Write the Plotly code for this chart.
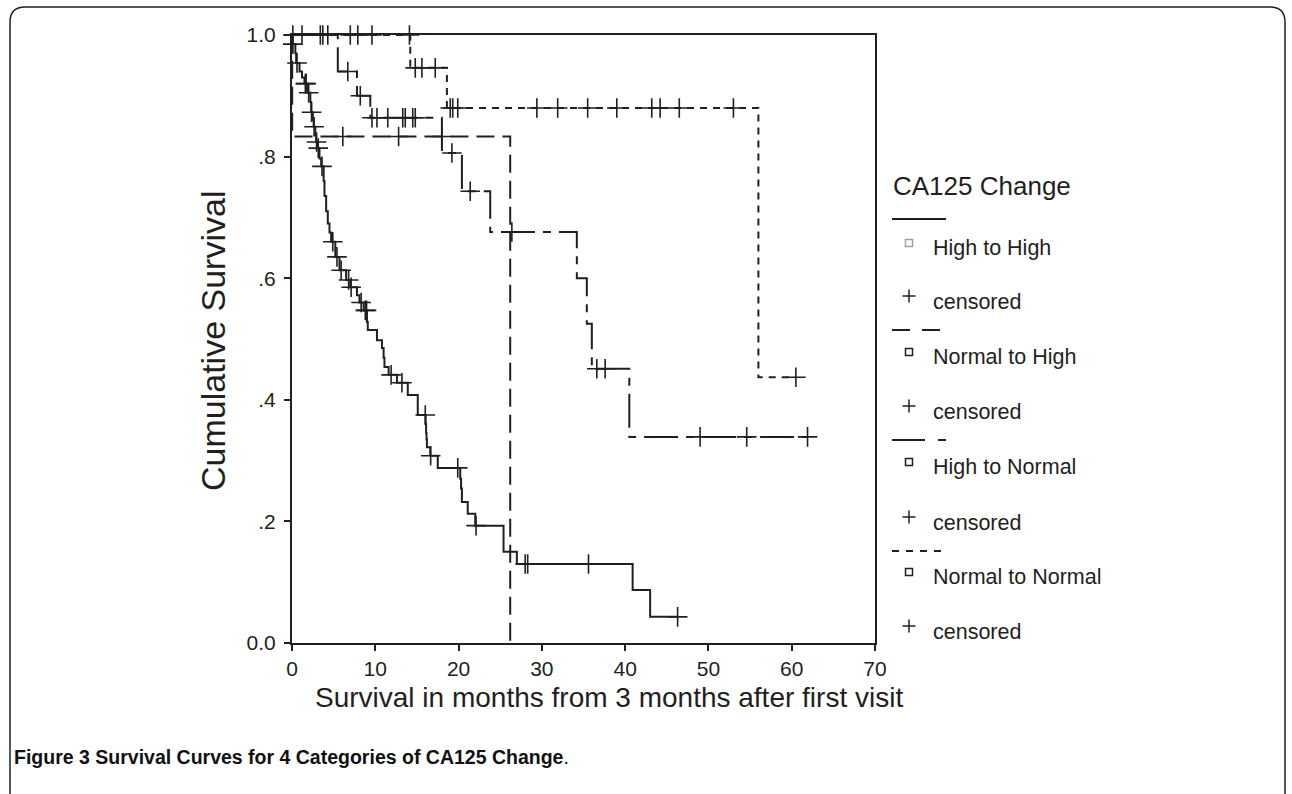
import plotly.graph_objects as go

# ---------------- data ----------------
groups = ["High to High", "Normal to High", "High to Normal", "Normal to Normal"]

hh_event_t = [0.05, 0.4, 0.5, 0.9, 1.2, 1.5, 1.9, 2.2, 2.3, 2.5, 2.6, 2.8, 2.9, 3.1, 3.3, 3.5,
              3.8, 3.9, 4.1, 4.3, 4.5, 4.7, 5.2, 5.7, 6.5, 7.0, 7.8, 8.1, 8.6, 9.0, 9.1, 10.2,
              10.8, 11.0, 11.1, 11.6, 12.6, 13.9, 15.1, 16.05, 16.1, 16.15, 16.2, 16.6, 17.5,
              20.2, 20.3, 20.4, 21.1, 22.0, 25.4, 27.0, 40.9, 43.0]
hh_event_s = [0.985, 0.97, 0.954, 0.94, 0.93, 0.92, 0.905, 0.89, 0.873, 0.86, 0.849, 0.835, 0.824,
              0.814, 0.797, 0.784, 0.76, 0.735, 0.71, 0.69, 0.675, 0.66, 0.635, 0.613, 0.597,
              0.585, 0.572, 0.56, 0.547, 0.528, 0.515, 0.498, 0.485, 0.469, 0.454, 0.441, 0.428,
              0.408, 0.375, 0.36, 0.345, 0.335, 0.322, 0.308, 0.288, 0.27, 0.254, 0.232, 0.2125,
              0.193, 0.15, 0.13, 0.087, 0.043]
hh_censor_t = [0.1, 0.6, 1.6, 1.7, 2.0, 2.35, 2.65, 2.95, 3.15, 3.6, 4.9, 5.4, 5.9, 6.8, 7.1,
               8.3, 8.8, 8.95, 11.9, 13.2, 16.0, 16.65, 19.9, 22.1, 28.0, 28.3, 35.6, 46.3]
hh_end = 46.3

nh_event_t = [0.02, 26.2]
nh_event_s = [0.833, 0.0]
nh_censor_t = [6.1, 12.8, 18.0]
nh_end = 26.2

hn_event_t = [5.5, 7.8, 9.4, 18.0, 20.4, 23.8, 34.2, 35.4, 36.0, 40.5]
hn_event_s = [0.94, 0.90, 0.864, 0.806, 0.743, 0.676, 0.60, 0.525, 0.451, 0.339]
hn_censor_t = [0.1, 1.2, 3.4, 3.7, 4.3, 6.7, 8.2, 9.6, 10.2, 11.5, 13.3, 13.6, 14.5, 14.8,
               19.2, 21.4, 26.4, 36.6, 37.6, 49.0, 54.6, 61.9]
hn_end = 61.9

nn_event_t = [14.2, 18.6, 56.0]
nn_event_s = [0.946, 0.88, 0.437]
nn_censor_t = [7.0, 7.9, 9.6, 14.1, 14.8, 15.6, 17.2, 19.0, 19.3, 19.9, 29.4, 31.9, 35.5,
               39.0, 43.2, 44.2, 46.5, 53.0, 60.5]
nn_end = 60.5

x_ticks = [0, 10, 20, 30, 40, 50, 60, 70]
y_ticks = [0.0, 0.2, 0.4, 0.6, 0.8, 1.0]
y_tick_text = ["0.0", ".2", ".4", ".6", ".8", "1.0"]

# ---------------- helpers ----------------
INK = "#231f20"


def surv_at(t, et, es):
    s = 1.0
    for ti, si in zip(et, es):
        if ti <= t:
            s = si
    return s


def step_xy(et, es, end):
    xs = [0.0] + list(et)
    ys = [1.0] + list(es)
    if end > xs[-1]:
        xs.append(end)
        ys.append(ys[-1])
    return xs, ys


dashes = ["solid", "18px,8px", "34px,8px,8px,8px", "7px,6px"]
legend_dashes = ["solid", "18px,12px", "33px,13px,8px,13px", "7px,7px"]
series = [
    (hh_event_t, hh_event_s, hh_censor_t, hh_end),
    (nh_event_t, nh_event_s, nh_censor_t, nh_end),
    (hn_event_t, hn_event_s, hn_censor_t, hn_end),
    (nn_event_t, nn_event_s, nn_censor_t, nn_end),
]

fig = go.Figure()
for name, (et, es, ct, end), dash in zip(groups, series, dashes):
    xs, ys = step_xy(et, es, end)
    fig.add_trace(go.Scatter(x=xs, y=ys, mode="lines", line_shape="hv", name=name,
                             line=dict(color=INK, width=2, dash=dash), showlegend=False,
                             cliponaxis=False))
    cy = [surv_at(t, et, es) for t in ct]
    fig.add_trace(go.Scatter(x=ct, y=cy, mode="markers", name="censored", showlegend=False,
                             cliponaxis=False,
                             marker=dict(symbol="cross-thin", size=14, color=INK,
                                         line=dict(color=INK, width=1.6))))

# ---------------- layout ----------------
L, R, T, B = 292, 875, 35, 643
W, H = 1292, 794


def px(x):
    return (x - L) / (R - L)


def py(y):
    return (B - y) / (B - T)


FONT = "Liberation Sans, Arial, sans-serif"

axis_common = dict(showline=True, linewidth=2, linecolor=INK, mirror=True, showgrid=False,
                   zeroline=False, ticks="outside", ticklen=6, tickwidth=1.5, tickcolor=INK,
                   tickfont=dict(family=FONT, size=21, color=INK))

fig.update_layout(
    width=W, height=H,
    margin=dict(l=L, r=W - R, t=T, b=H - B, pad=0),
    paper_bgcolor="white", plot_bgcolor="white",
    xaxis=dict(range=[0, 70], tickvals=x_ticks, **axis_common),
    yaxis=dict(range=[0, 1], tickvals=y_ticks, ticktext=y_tick_text, ticklabelstandoff=4,
               **axis_common),
    font=dict(family=FONT, color=INK),
)

shapes = []
annotations = []


def note(text, x, y, size, xanchor="left", angle=0, color=INK):
    annotations.append(dict(text=text, x=px(x), y=py(y), xref="paper", yref="paper",
                            showarrow=False, xanchor=xanchor, yanchor="middle",
                            textangle=angle, font=dict(family=FONT, size=size, color=color)))


# outer rounded frame
path = (f"M {px(10)},{py(820)} L {px(10)},{py(22)} Q {px(10)},{py(7)} {px(25)},{py(7)} "
        f"L {px(1270)},{py(7)} Q {px(1285)},{py(7)} {px(1285)},{py(22)} L {px(1285)},{py(820)}")
shapes.append(dict(type="path", path=path, xref="paper", yref="paper",
                   line=dict(color=INK, width=1.5)))

# axis titles
note("Cumulative Survival", 213, 341, 34, xanchor="center", angle=-90)
note("Survival in months from 3 months after first visit", 609, 697, 28, xanchor="center")
# caption
note("<b>Figure 3</b> <b>Survival Curves for 4 Categories of CA125 Change</b>.", 12, 757, 19.5,
     color="#111")

# legend
note("CA125 Change", 891, 186, 26)
line_y = [219, 330, 440, 551]
label_y = [248, 357, 467, 577]
cens_y = [302, 412, 523, 632]
square_colors = ["#a0a0a0", INK, INK, INK]
for i, name in enumerate(groups):
    shapes.append(dict(type="line", xref="paper", yref="paper", x0=px(892), x1=px(946),
                       y0=py(line_y[i]), y1=py(line_y[i]),
                       line=dict(color=INK, width=1.8, dash=legend_dashes[i])))
    sy = label_y[i] - 5
    shapes.append(dict(type="rect", xref="paper", yref="paper", x0=px(905.5), x1=px(912.5),
                       y0=py(sy - 3.5), y1=py(sy + 3.5),
                       line=dict(color=square_colors[i], width=1.5), fillcolor="white"))
    note(name, 931, label_y[i], 21.5)
    cy = cens_y[i] - 6
    shapes.append(dict(type="line", xref="paper", yref="paper", x0=px(902.5), x1=px(915.5),
                       y0=py(cy), y1=py(cy), line=dict(color=INK, width=1.5)))
    shapes.append(dict(type="line", xref="paper", yref="paper", x0=px(909), x1=px(909),
                       y0=py(cy - 6.5), y1=py(cy + 6.5), line=dict(color=INK, width=1.5)))
    note("censored", 931, cens_y[i], 21.5)

fig.update_layout(shapes=shapes, annotations=annotations)

fig.write_html("out.html", config={"displayModeBar": False},
               post_script="document.body.style.margin='0';document.body.style.overflow='hidden';")
